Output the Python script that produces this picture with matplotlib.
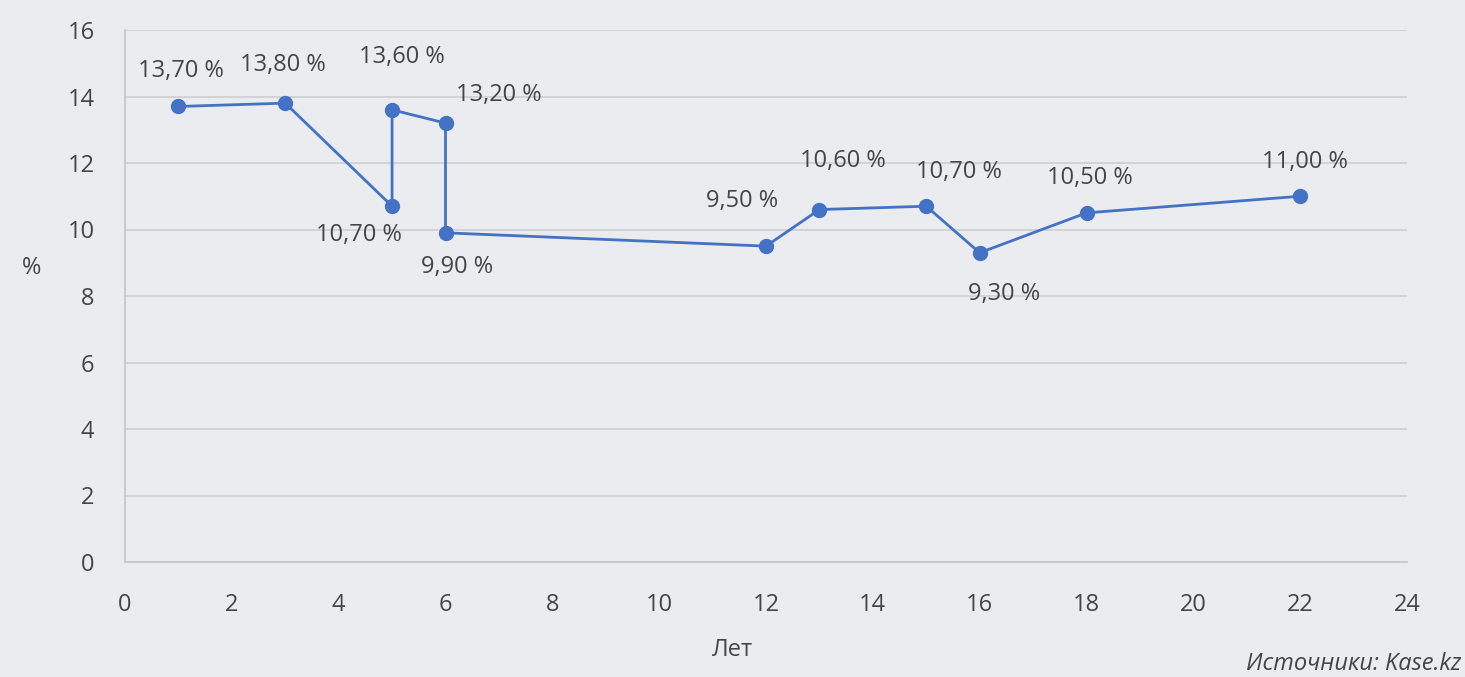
import matplotlib.pyplot as plt

# data (years, yield %)
years = [1, 3, 5, 5, 6, 6, 12, 13, 15, 16, 18, 22]
rates = [13.7, 13.8, 10.7, 13.6, 13.2, 9.9, 9.5, 10.6, 10.7, 9.3, 10.5, 11.0]
labels = ["13,70 %", "13,80 %", "10,70 %", "13,60 %", "13,20 %", "9,90 %",
          "9,50 %", "10,60 %", "10,70 %", "9,30 %", "10,50 %", "11,00 %"]

# label offsets in pixels (dx, dy)
offsets = [(3, 35), (-2, 38), (-33, -29), (10, 53), (53, 28), (12, -34),
           (-24, 45), (23, 49), (33, 34), (24, -41), (3, 35), (5, 34)]

bg = "#eaecef"
txt = "#454545"
plt.rcParams['font.family'] = ['Open Sans', 'DejaVu Sans']

fig = plt.figure(figsize=(14.65, 6.77), dpi=100, facecolor=bg)
ax = fig.add_axes([125/1465, 1-562/677, (1407-125)/1465, (562-30)/677])
ax.set_facecolor(bg)

ax.plot(years, rates, "-o", color="#4472c4", lw=2, markersize=10, zorder=3)

for x, y, s, (dx, dy) in zip(years, rates, labels, offsets):
    ax.annotate(s, (x, y), xytext=(dx*0.72, dy*0.72), textcoords="offset points",
                ha="center", va="center", fontsize=17, color=txt)

ax.set_xlim(0, 24)
ax.set_ylim(0, 16)
ax.set_xticks(range(0, 25, 2))
ax.set_yticks(range(0, 17, 2))
ax.grid(axis="y", color="#d0d1d3", lw=1.3)
ax.set_axisbelow(True)
for side in ["top", "right"]:
    ax.spines[side].set_visible(False)
for side in ["left", "bottom"]:
    ax.spines[side].set_color("#c8c9cb")
    ax.spines[side].set_linewidth(1.3)
ax.tick_params(length=0, labelsize=17, colors=txt)
ax.tick_params(axis="x", pad=22)
ax.tick_params(axis="y", pad=22)

fig.text(32/1465, 1-268/677, "%", fontsize=17, color=txt, ha="center", va="center")
fig.text(733/1465, 1-650/677, "Лет", fontsize=17, color=txt, ha="center", va="center")
fig.text(1461/1465, 1-664/677, "Источники: Kase.kz", fontsize=17, color=txt,
         ha="right", va="center", style="italic")

plt.savefig("out.png", dpi=100, facecolor=bg)
